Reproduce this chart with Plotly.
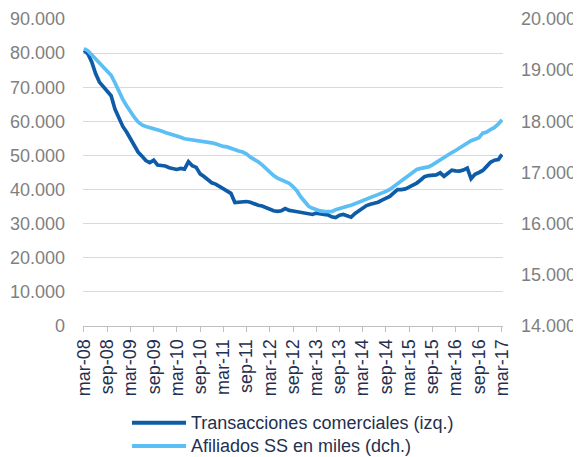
import plotly.graph_objects as go
import pandas as pd

# ---- data -------------------------------------------------------------
months = pd.date_range("2008-03-01", periods=109, freq="MS")

series_names = ["Transacciones comerciales (izq.)", "Afiliados SS en miles (dch.)"]

transacciones = [
    80800, 79800, 77500, 74000, 71500, 70200, 69000, 67500, 63500, 61200,
    58500, 56800, 55000, 52500, 51000, 49800, 48500, 47900, 48600, 47200,
    47000, 46900, 46400, 46100, 45900, 46200, 46000, 48200, 47000, 46500,
    44600, 43800, 43000, 42000, 41600, 40900, 40400, 39500, 38900, 36200,
    36300, 36500, 36500, 36300, 35800, 35400, 35200, 34700, 34200, 33800,
    33600, 33800, 34400, 33900, 33700, 33500, 33400, 33200, 33000, 32700,
    33100, 32800, 32700, 32600, 32000, 31800, 32500, 32700, 32400, 31900,
    33000, 33800, 34800, 35300, 35700, 36000, 36300, 36900, 37500, 38000,
    39000, 40000, 40000, 40200, 40700, 41200, 41900, 42800, 43800, 44100,
    44200, 44300, 44900, 43900, 44800, 45700, 45500, 45400, 45700, 46300,
    43200, 44500, 45000, 45600, 46800, 48000, 48600, 48800, 50300,
]

afiliados = [
    19420, 19380, 19300, 19220, 19130, 19060, 18990, 18900, 18750, 18580,
    18430, 18300, 18190, 18080, 17990, 17930, 17900, 17880, 17860, 17830,
    17810, 17780, 17760, 17730, 17710, 17690, 17660, 17650, 17640, 17630,
    17620, 17605, 17590, 17580, 17560, 17530, 17510, 17500, 17470, 17440,
    17420, 17400, 17360, 17300, 17260, 17210, 17150, 17080, 17000, 16940,
    16890, 16850, 16820, 16790, 16720, 16640, 16520, 16420, 16340, 16300,
    16270, 16250, 16240, 16235, 16235, 16270, 16300, 16320, 16340, 16360,
    16390, 16420, 16440, 16470, 16500, 16530, 16560, 16590, 16630, 16670,
    16730, 16770, 16840, 16900, 16960, 17020, 17060, 17080, 17090, 17110,
    17150, 17200, 17250, 17290, 17340, 17390, 17430, 17480, 17530, 17580,
    17620, 17650, 17680, 17770, 17790, 17840, 17880, 17950, 18030,
]

tick_labels = ["mar-08", "sep-08", "mar-09", "sep-09", "mar-10", "sep-10",
               "mar-11", "sep-11", "mar-12", "sep-12", "mar-13", "sep-13",
               "mar-14", "sep-14", "mar-15", "sep-15", "mar-16", "sep-16",
               "mar-17"]
tick_dates = list(months[::6])

left_ticks = [0, 10000, 20000, 30000, 40000, 50000, 60000, 70000, 80000, 90000]
right_ticks = [14000, 15000, 16000, 17000, 18000, 19000, 20000]

colors = ["#0E5CA8", "#5BBEF5"]

# ---- figure -----------------------------------------------------------
FONT = "Arial, Liberation Sans, sans-serif"
fig = go.Figure()
fig.add_trace(go.Scatter(x=months, y=transacciones, name=series_names[0],
                         mode="lines", line=dict(color=colors[0], width=3.7),
                         yaxis="y"))
fig.add_trace(go.Scatter(x=months, y=afiliados, name=series_names[1],
                         mode="lines", line=dict(color=colors[1], width=3.7),
                         yaxis="y2"))

# page body has an 8px default margin, so the figure is 8px smaller
fig.update_layout(
    width=573, height=449,
    margin=dict(l=75, r=78, t=11, b=131),
    paper_bgcolor="white", plot_bgcolor="white",
    separators=",.",
    showlegend=False,
    font=dict(family=FONT, size=18, color="#7F7F7F"),
    xaxis=dict(
        type="date", automargin=False,
        range=[pd.Timestamp("2008-02-23"), pd.Timestamp("2017-03-09")],
        tickvals=tick_dates, ticktext=tick_labels,
        tickangle=-90,
        tickfont=dict(family=FONT, size=18, color="#1F3050"),
        showgrid=False, showline=True, linecolor="#BFBFBF", linewidth=1,
        ticks="outside", ticklen=5, tickcolor="#BFBFBF",
        zeroline=False,
    ),
    yaxis=dict(
        automargin=False,
        range=[0, 90000], tickvals=left_ticks, tickformat=",d",
        showgrid=True, gridcolor="#D9D9D9", gridwidth=1,
        showline=False, zeroline=False, ticks="",
        ticklabelstandoff=17,
        tickfont=dict(family=FONT, size=18, color="#7F7F7F"),
    ),
    yaxis2=dict(
        automargin=False,
        range=[14000, 20000], tickvals=right_ticks, tickformat=",d",
        overlaying="y", side="right",
        showgrid=False, showline=False, zeroline=False, ticks="",
        ticklabelstandoff=17,
        tickfont=dict(family=FONT, size=18, color="#7F7F7F"),
    ),
)

# manual legend (longer line samples as in the reference)
legend_y = [-0.315, -0.3909]
for name, col, ly in zip(series_names, colors, legend_y):
    fig.add_shape(type="line", xref="paper", yref="paper",
                  x0=(132 - 83) / 420, x1=(186 - 83) / 420, y0=ly, y1=ly,
                  line=dict(color=col, width=4))
    fig.add_annotation(text=name, xref="paper", yref="paper",
                       x=(189 - 83) / 420, y=ly, xanchor="left", yanchor="middle",
                       showarrow=False,
                       font=dict(family=FONT, size=18, color="#1F3050"))

fig.write_html("out.html")
